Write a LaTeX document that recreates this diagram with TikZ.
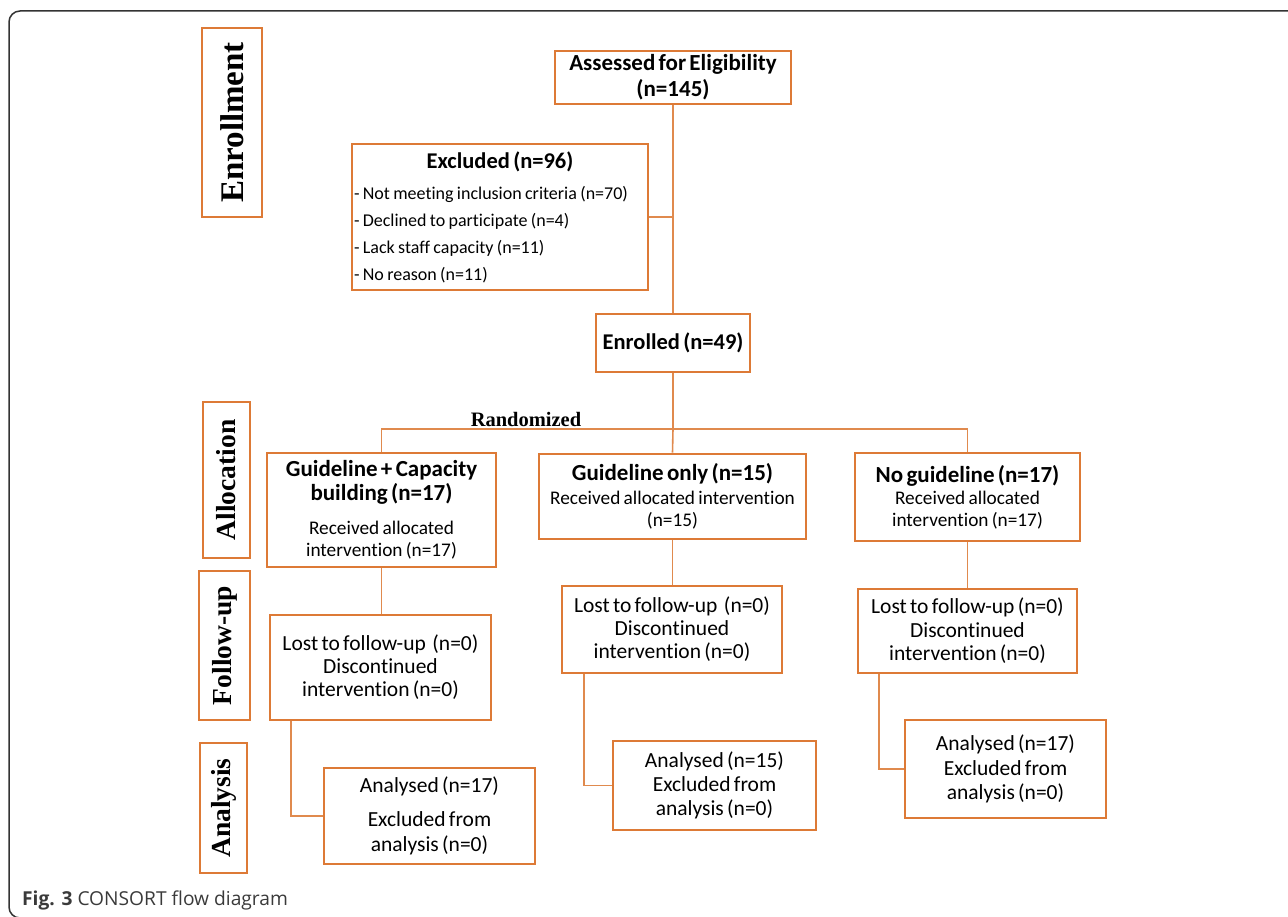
\documentclass[tikz,border=0pt]{standalone}
\usepackage{fontspec}
\newfontfamily\cbri[Ligatures=CommonOff]{Carlito}
\newfontfamily\tnr{Liberation Serif}
\newfontfamily\osans{Open Sans}
\definecolor{boxc}{HTML}{DD7A36}
\definecolor{linec}{HTML}{E08A4E}
\definecolor{framec}{HTML}{333333}
\definecolor{capc}{HTML}{3A3A3A}
\newcommand\fs[2]{\fontsize{#1}{#2}\selectfont}
\tikzset{
  box/.style={draw=boxc, line width=2.6pt, inner sep=0pt, align=center, font=\cbri},
  lab/.style={draw=boxc, line width=2.6pt, inner sep=0pt, rotate=90},
  conn/.style={draw=linec, line width=1.6pt},
}
\newcommand\bx[6]{\node[box, minimum width={#4-#2}, minimum height={#5-#3}, text width={#4-#2-4}] (#1) at ({(#2+#4)/2},{(#3+#5)/2}) {#6};}
\begin{document}
\begin{tikzpicture}[x=1pt,y=-1pt]
\useasboundingbox (0,0) rectangle (1288,917);
% frame
\draw[framec, line width=1.5pt, rounded corners=11pt] (1300,11) -- (9,11) -- (9,918) -- (1300,918);
% stage labels
\node[lab, minimum width=189, minimum height=60, font={\tnr\bfseries\fs{33}{35}}] (enr) at (232,122.5) {Enrollment};
\node[lab, minimum width=156, minimum height=47, font={\tnr\bfseries\fs{27.5}{30}}] (alloc) at (226.5,480) {Allocation};
\node[lab, minimum width=149, minimum height=51, font={\tnr\bfseries\fs{27.5}{30}}] (fup) at (224.5,645.5) {Follow-up};
\node[lab, minimum width=130, minimum height=47, font={\tnr\bfseries\fs{27.5}{30}}] (anal) at (223.5,808) {Analysis};
% boxes
\bx{assessed}{555}{51}{791}{104}{\fs{23}{26}\bfseries Assessed for Eligibility\\(n=145)\par}
\bx{excl}{352}{144}{648}{290}{{\centering\fs{22.5}{26}\bfseries Excluded (n=96)\par}\vspace{4pt}{\raggedright\fs{18}{27}- Not meeting inclusion criteria (n=70)\\- Declined to participate (n=4)\\- Lack staff capacity (n=11)\\- No reason (n=11)\par}}
\bx{enrolled}{596}{314}{750}{372}{\fs{22.5}{26}\bfseries Enrolled (n=49)\par}
\bx{gcb}{267}{453}{496}{567}{{\fs{23}{24}\bfseries Guideline + Capacity\\building (n=17)\par}\vspace{12pt}{\fs{19.3}{22}Received allocated\\intervention (n=17)\par}}
\bx{go}{539}{454}{806}{539}{{\fs{23}{24}\bfseries Guideline only (n=15)\par}\vspace{2pt}{\fs{19.3}{22}Received allocated intervention\\(n=15)\par}}
\bx{ng}{855}{453}{1080}{541}{{\fs{23}{24}\bfseries No guideline (n=17)\par}\vspace{1pt}{\fs{19.3}{21.5}Received allocated\\intervention (n=17)\par}}
\bx{fu1}{270}{615}{491}{720}{\fs{21.5}{23}Lost to follow-up\ \ (n=0)\\Discontinued\\intervention (n=0)\par}
\bx{fu2}{562}{586}{782}{673}{\fs{21.5}{23}Lost to follow-up\ \ (n=0)\\Discontinued\\intervention (n=0)\par}
\bx{fu3}{858}{589}{1077}{673}{\fs{21.5}{23.5}Lost to follow-up (n=0)\\Discontinued\\intervention (n=0)\par}
\bx{a1}{324}{768}{535}{864}{{\fs{21.5}{25}Analysed (n=17)\par}\vspace{9pt}{\fs{21.5}{25}Excluded from\\analysis (n=0)\par}}
\bx{a2}{613}{741}{816}{830}{\fs{21.5}{24}Analysed (n=15)\\Excluded from\\analysis (n=0)\par}
\bx{a3}{905}{720}{1106}{818}{\fs{21.5}{24.5}Analysed (n=17)\\Excluded from\\analysis (n=0)\par}
% connectors
\draw[conn] (assessed.south) -- (enrolled.north);
\draw[conn] (excl.east) -- (excl.east -| assessed.south);
\coordinate (rnd) at (673,429);
\draw[conn] (enrolled.south) -- (rnd);
\draw[conn] (gcb.north) |- (rnd) -| (ng.north);
\draw[conn] (rnd) -- (go.north);
\node[font={\tnr\bfseries\fs{20.5}{22}}, anchor=base] (rlab) at (526,426) {Randomized};
\draw[conn] (gcb.south) -- (gcb.south |- fu1.north);
\draw[conn] (go.south) -- (go.south |- fu2.north);
\draw[conn] (ng.south) -- (ng.south |- fu3.north);
\draw[conn] ([xshift=22pt]fu1.south west) |- (a1.west);
\draw[conn] ([xshift=23pt]fu2.south west) |- (a2.west);
\draw[conn] ([xshift=22pt]fu3.south west) |- (a3.west);
% caption
\node[anchor=base west, inner sep=0pt, text=capc, font={\osans\fs{19.2}{22}}] (cap) at (22,905) {\textbf{Fig. 3} CONSORT flow diagram};
\end{tikzpicture}
\end{document}
